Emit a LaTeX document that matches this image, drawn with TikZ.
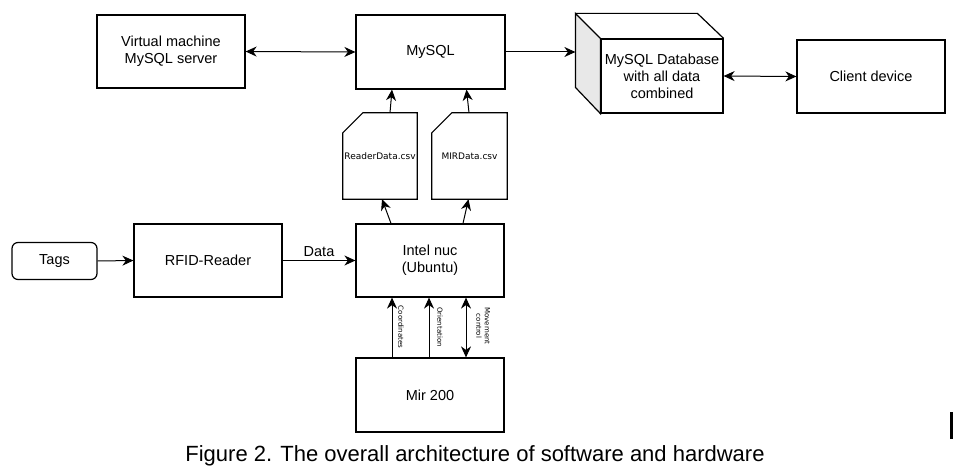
\documentclass[tikz,border=0pt]{standalone}
\usepackage{fontspec}
\setmainfont{Liberation Sans}
\newfontfamily\docfont{DejaVu Sans}
\usetikzlibrary{arrows.meta,calc}

\begin{document}
\begin{tikzpicture}[x=1pt,y=-1pt,
  line/.style={line width=1.2pt},
  box/.style={draw,line,minimum width=148pt,minimum height=73pt,align=center,inner sep=2pt,font=\fontsize{14.5}{17}\selectfont},
  doc/.style={minimum width=74pt,minimum height=86pt,inner sep=0pt,font=\docfont\fontsize{9}{10}\selectfont},
  tiny/.style={rotate=-90,align=center,inner sep=0pt,font=\docfont\fontsize{7}{8.5}\selectfont},
  link/.style={line width=1pt,-{Stealth[length=11pt,width=10pt,inset=3.5pt]}},
  both/.style={line width=1pt,{Stealth[length=11pt,width=10pt,inset=3.5pt]}-{Stealth[length=11pt,width=10pt,inset=3.5pt]}}]
\useasboundingbox (0,0) rectangle (963,473);

% top row
\node[box] (vm) at (171,51.5) {Virtual machine\\MySQL server};
\node[box,minimum width=149pt,minimum height=74pt] (mysql) at (430.5,52) {MySQL};
\node[box,minimum width=122pt,minimum height=74pt] (cube) at (662,76) {MySQL Database\\with all data\\combined};
\node[box] (client) at (871,76.5) {Client device};

% cube sides
\coordinate (cubeback) at ([xshift=-25pt]cube.west);
\filldraw[line,fill=gray!18] (cube.north west) -- ++(-25,-25) -- ++(0,74) -- (cube.south west) -- cycle;
\draw[line] (cube.north west) ++(-25,-25) -- ++(122,0) -- (cube.north east);

% csv files
\node[doc] (rd) at (380,156) {ReaderData.csv};
\node[doc,minimum width=75pt] (md) at (469.5,156) {MIRData.csv};
\draw[line] ([yshift=-20pt]rd.north west) -- ([xshift=20pt]rd.north west) -- (rd.north east) -- (rd.south east) -- (rd.south west) -- cycle;
\draw[line] ([yshift=-20pt]md.north west) -- ([xshift=20pt]md.north west) -- (md.north east) -- (md.south east) -- (md.south west) -- cycle;

% middle row
\node[box,rounded corners=6pt,minimum width=85pt,minimum height=37pt] (tags) at (54.5,261) {Tags};
\node[box] (rfid) at (208,260.5) {RFID-Reader};
\node[box] (nuc) at (430,260.5) {Intel nuc\\(Ubuntu)};
\node[box,minimum height=74pt] (mir) at (430,395) {Mir 200};

\draw[both] (vm.east) -- (mysql.west);
\draw[link] (mysql.east) -- (mysql.east -| cubeback);
\draw[both] (cube.east) -- (client.west);

\draw[link] ([xshift=10pt]rd.north) -- ([xshift=-38.5pt]mysql.south);
\draw[link] ([xshift=-0.5pt]md.north) -- ([xshift=36pt]mysql.south);
\draw[link] ([xshift=-39pt]nuc.north) -- ([xshift=2pt]rd.south);
\draw[link] ([xshift=33pt]nuc.north) -- ([xshift=-1pt]md.south);

\draw[link] (tags.east) -- (rfid.west);
\draw[link] (rfid.east) -- node[above,font=\fontsize{14.5}{17}\selectfont] (data) {Data} (nuc.west);

% robot links
\draw[link] ([xshift=-38pt]mir.north) -- ([xshift=-38pt]nuc.south);
\draw[link] ([xshift=-1pt]mir.north) -- ([xshift=-1pt]nuc.south);
\draw[both] ([xshift=36pt]mir.north) -- ([xshift=36pt]nuc.south);
\node[tiny] (coordlbl) at (401,327) {Coordinates};
\node[tiny] (orilbl) at (440,327) {Orientation};
\node[tiny] (movelbl) at (483,326) {Movement\\control};

\node[font=\fontsize{22}{26}\selectfont] (caption) at (475,456) {Figure 2. The overall architecture of software and hardware};
\fill (950,412) rectangle (953,439);

\end{tikzpicture}
\end{document}
